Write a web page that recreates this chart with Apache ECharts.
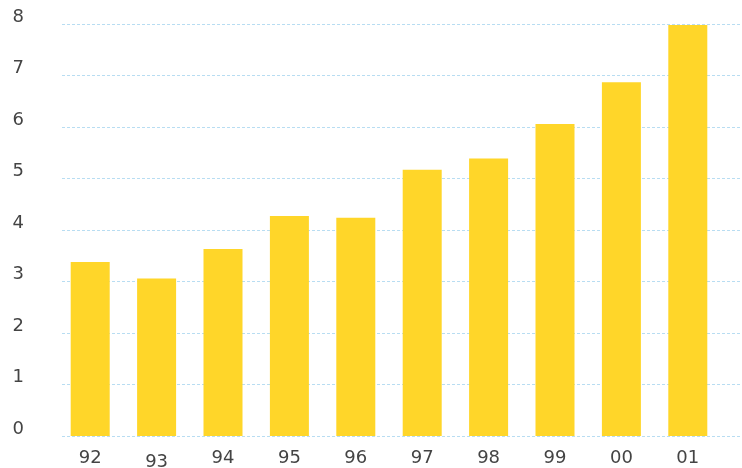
<!DOCTYPE html>
<html>
<head>
<meta charset="utf-8">
<script src="https://cdn.jsdelivr.net/npm/echarts@6/dist/echarts.min.js"></script>
<style>
html,body{margin:0;padding:0;background:#fff;}
#c{width:742px;height:468px;}
</style>
</head>
<body>
<div id="c"></div>
<script>
const categories = ['92','93','94','95','96','97','98','99','00','01'];
const values = [3.38, 3.06, 3.63, 4.27, 4.24, 5.17, 5.39, 6.06, 6.87, 7.98];
const yTicks = [0, 1, 2, 3, 4, 5, 6, 7, 8];

const chart = echarts.init(document.getElementById('c'));
const FONT = 'DejaVu Sans';
chart.setOption({
  backgroundColor: '#ffffff',
  animation: false,
  grid: [
    {left: 62, right: 0, top: 24, bottom: 32, outerBoundsMode: 'none', containLabel: false},
    {left: 57, width: 664, top: 24, bottom: 32, outerBoundsMode: 'none', containLabel: false}
  ],
  xAxis: [
    {gridIndex: 0, type: 'value', min: 0, max: 1, show: false},
    {
      gridIndex: 1, type: 'category', data: categories,
      axisLine: {show: false}, axisTick: {show: false},
      axisLabel: {
        interval: 0, margin: 13, color: '#444', fontSize: 18, fontFamily: FONT,
        formatter: function (v) { return v === '93' ? '{low|' + v + '}' : v; },
        rich: {low: {padding: [4, 0, 0, 0], color: '#444', fontSize: 18, fontFamily: FONT}}
      }
    }
  ],
  yAxis: [
    {
      gridIndex: 0, type: 'value', min: yTicks[0], max: yTicks[yTicks.length - 1], interval: 1,
      axisLine: {show: false}, axisTick: {show: false},
      axisLabel: {margin: 38, color: '#444', fontSize: 18, fontFamily: FONT, verticalAlign: 'bottom', lineHeight: 14},
      splitLine: {show: true, lineStyle: {color: '#b8ddf2', width: 1, type: [3, 2]}}
    },
    {
      gridIndex: 1, type: 'value', min: yTicks[0], max: yTicks[yTicks.length - 1], interval: 1,
      show: false, splitLine: {show: false}
    }
  ],
  series: [{
    type: 'bar', xAxisIndex: 1, yAxisIndex: 1,
    data: values, barWidth: 39,
    itemStyle: {color: '#FFD629'}
  }]
});
</script>
</body>
</html>
